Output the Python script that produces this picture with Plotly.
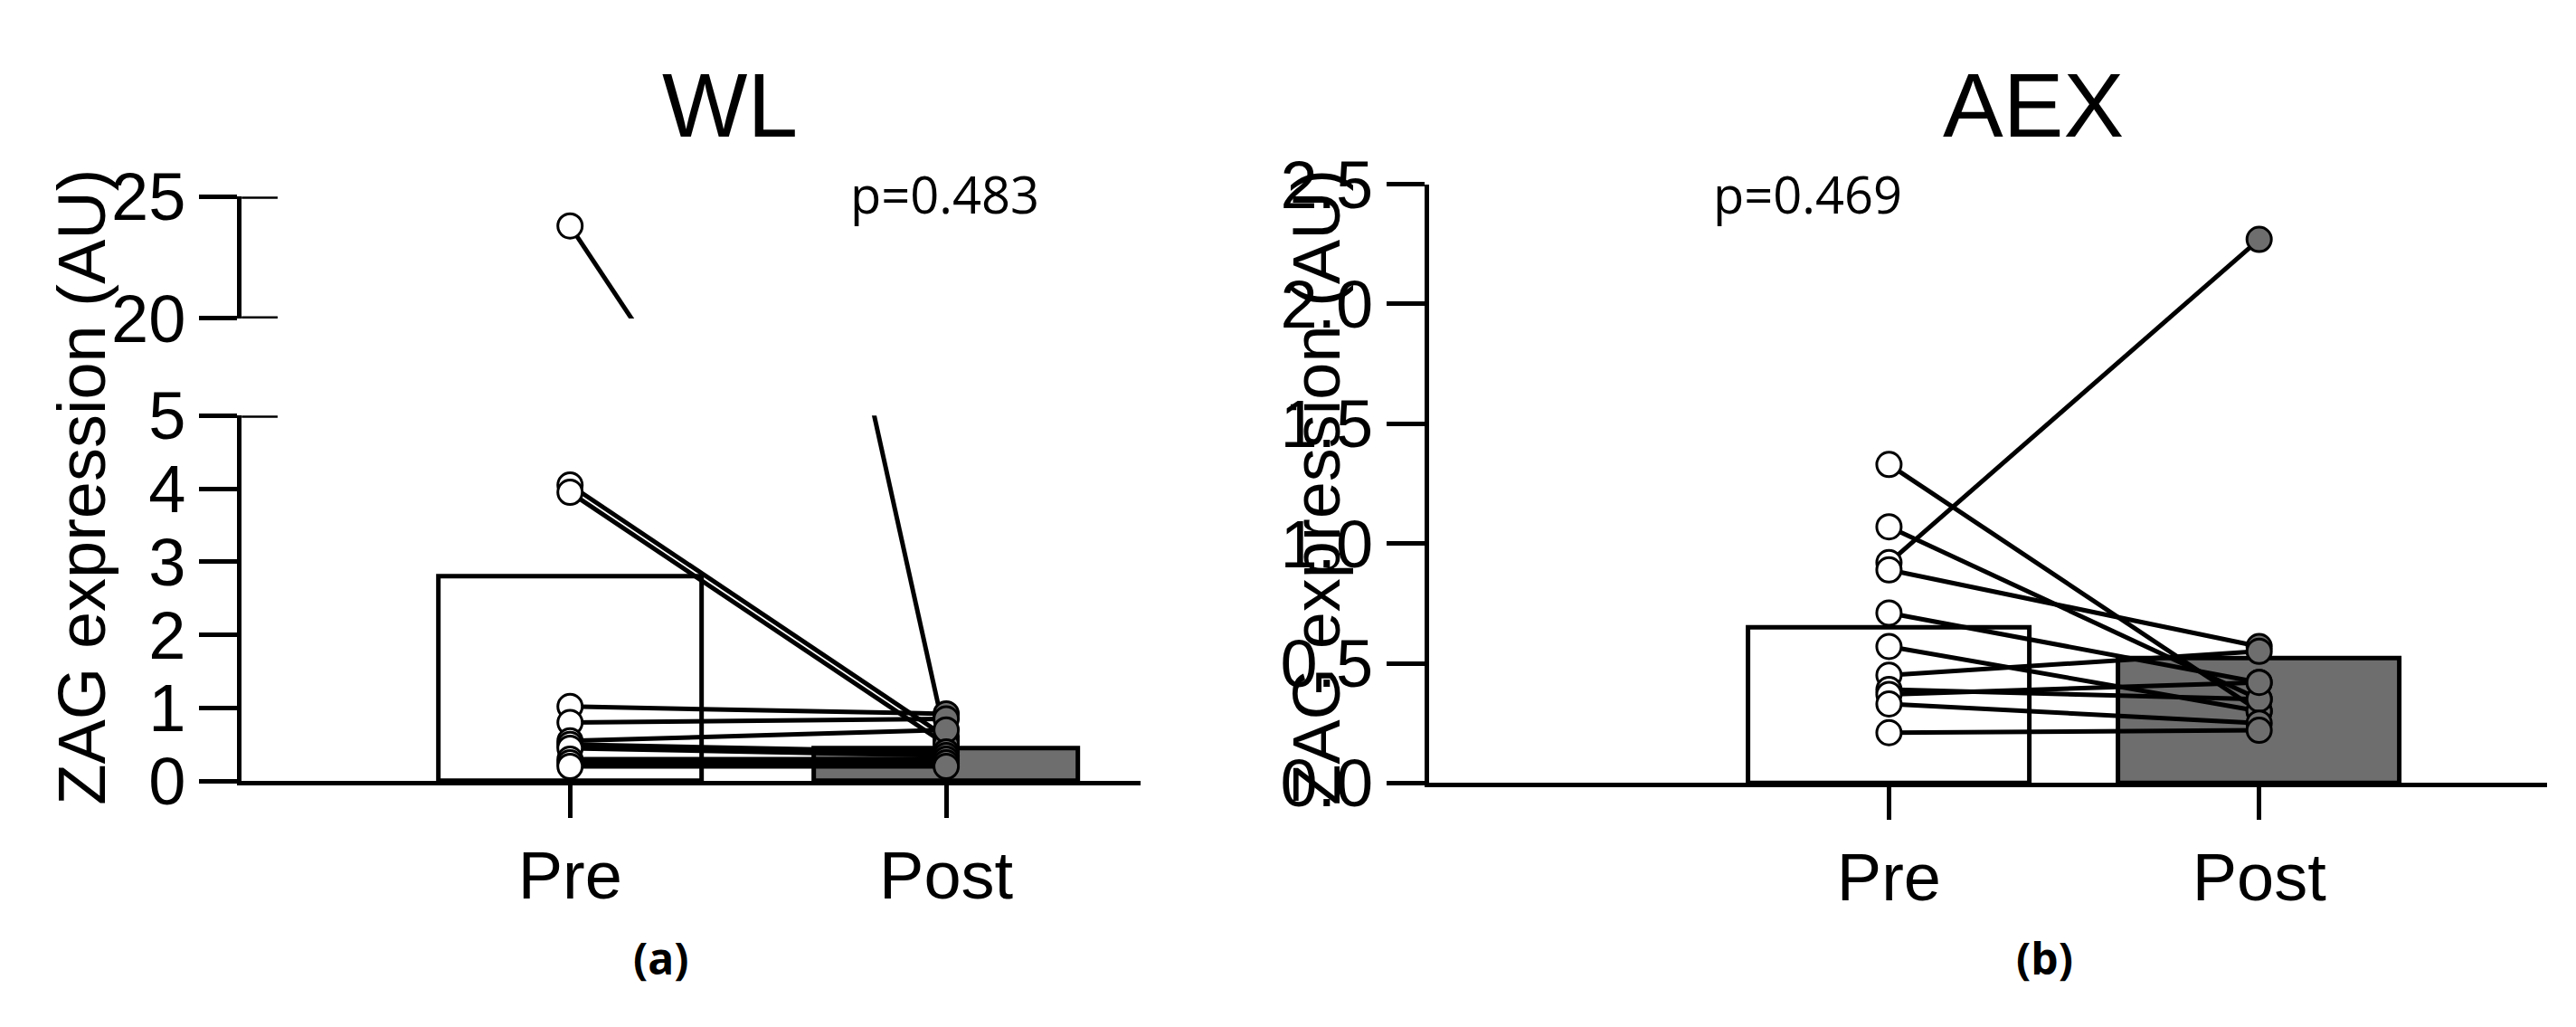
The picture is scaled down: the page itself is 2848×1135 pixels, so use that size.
import plotly.graph_objects as go

groups = ["Pre", "Post"]

# WL panel (a)
wl_pre = [23.8, 4.05, 3.95, 1.02, 0.80, 0.55, 0.50, 0.45, 0.30, 0.25, 0.20]
wl_post = [0.55, 0.60, 0.50, 0.92, 0.85, 0.70, 0.40, 0.35, 0.30, 0.25, 0.20]
wl_bars = [2.8, 0.45]

# AEX panel (b)
aex_pre = [1.33, 1.07, 0.92, 0.89, 0.71, 0.57, 0.45, 0.39, 0.37, 0.33, 0.21]
aex_post = [0.30, 0.35, 2.27, 0.57, 0.42, 0.30, 0.55, 0.35, 0.42, 0.25, 0.22]
aex_bars = [0.65, 0.52]

FONT = "Liberation Sans, Arial, sans-serif"
LW = 5
GREY = "#6e6e6e"

fig = go.Figure()


def add_panel(xa, ya, pre, post, bars, width):
    fig.add_trace(go.Bar(x=[0, 1], y=bars, width=width, xaxis=xa, yaxis=ya,
                         marker=dict(color=["white", GREY], line=dict(color="black", width=LW)),
                         showlegend=False))
    for a, b in zip(pre, post):
        fig.add_trace(go.Scatter(x=[0, 1], y=[a, b], mode="lines+markers", xaxis=xa, yaxis=ya,
                                 line=dict(color="black", width=5),
                                 marker=dict(size=27, color=["white", GREY], line=dict(color="black", width=3)),
                                 showlegend=False))


add_panel("x", "y", wl_pre, wl_post, wl_bars, 0.7)
add_panel("x", "y2", wl_pre, wl_post, wl_bars, 0.7)
add_panel("x3", "y3", aex_pre, aex_post, aex_bars, 0.76)

tickfont = dict(family=FONT, size=74, color="black")
common_y = dict(showline=True, linewidth=LW, linecolor="black", ticks="outside", ticklen=42,
                tickwidth=LW, tickcolor="black", showgrid=False, zeroline=False, tickfont=tickfont)
common_x = dict(showline=True, linewidth=LW, linecolor="black", ticks="outside", ticklen=36,
                tickwidth=LW, tickcolor="black", showgrid=False, zeroline=False, tickfont=tickfont,
                tickvals=[0, 1], ticktext=groups)

fig.update_layout(
    width=2848, height=1135, margin=dict(l=0, r=0, t=0, b=0),
    plot_bgcolor="white", paper_bgcolor="white", bargap=0,
    xaxis=dict(domain=[0.091, 0.44], range=[-0.873, 1.517], anchor="y", **common_x),
    yaxis=dict(domain=[0.226, 0.61], range=[0, 5], tickvals=[0, 1, 2, 3, 4, 5], anchor="x", **common_y),
    yaxis2=dict(domain=[0.712, 0.84], range=[20, 25], tickvals=[20, 25], anchor="x", **common_y),
    xaxis3=dict(domain=[0.552, 0.986], range=[-1.242, 1.778], anchor="y3", **common_x),
    yaxis3=dict(domain=[0.224, 0.853], range=[0, 2.5], tickvals=[0, 0.5, 1, 1.5, 2, 2.5],
                tickformat=".1f", anchor="x3", **common_y),
)

# ticks crossing the broken axis
for ya, yv in [("y2", 25), ("y2", 20), ("y", 5)]:
    fig.add_shape(type="line", xref="x domain", yref=ya, x0=0, x1=0.04, y0=yv, y1=yv,
                  line=dict(color="black", width=LW))


def text(t, x, y, size, family=FONT, angle=0):
    fig.add_annotation(text=t, x=x, y=y, xref="paper", yref="paper", xanchor="center", yanchor="middle",
                       textangle=angle, showarrow=False, font=dict(family=family, size=size, color="black"))


text("WL", 0.2805, 0.936, 100)
text("AEX", 0.7865, 0.936, 100)
text("ZAG expression (AU)", 0.029, 0.535, 74, angle=-90)
text("ZAG expression (AU)", 0.508, 0.535, 74, angle=-90)
text("p=0.483", 0.364, 0.843, 56, family="Open Sans, sans-serif")
text("p=0.469", 0.699, 0.843, 56, family="Open Sans, sans-serif")
text("<b>(a)</b>", 0.254, 0.04, 48, family="Open Sans, sans-serif")
text("<b>(b)</b>", 0.791, 0.04, 48, family="Open Sans, sans-serif")

fig.write_html("out.html")
